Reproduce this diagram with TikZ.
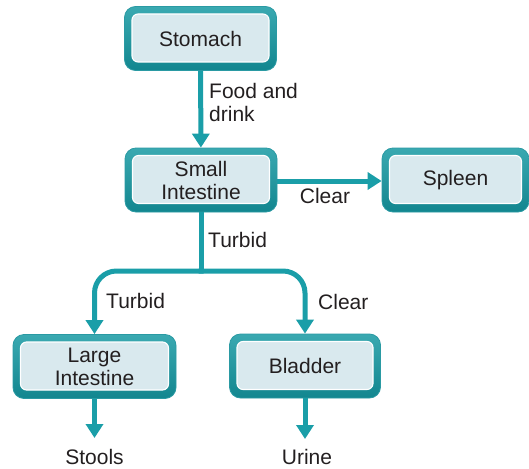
\documentclass[tikz,border=0pt]{standalone}
\usepackage{fontspec}
\setmainfont{Liberation Sans}
\usetikzlibrary{arrows.meta}

\definecolor{flowteal}{HTML}{1A9EA8}
\definecolor{rimtop}{HTML}{3AA9B1}
\definecolor{rimmid}{HTML}{A9DADD}
\definecolor{rimbot}{HTML}{12868F}
\definecolor{rimline}{HTML}{2A9AA3}
\definecolor{panelfill}{HTML}{D9E9EE}
\definecolor{inktext}{HTML}{231F20}

\tikzset{
  organ/.style={
    minimum height=64pt, inner sep=0pt,
    rounded corners=11pt,
    top color=rimtop, middle color=rimmid, bottom color=rimbot,
    draw=rimline, line width=0.8pt,
    align=center, text=inktext,
    font=\fontsize{21pt}{23pt}\selectfont,
    path picture={
      \draw[white, line width=1.1pt, fill=panelfill, rounded corners=6pt]
        ([shift={(7.5pt,-7.5pt)}]path picture bounding box.north west)
        rectangle
        ([shift={(-7.5pt,8.5pt)}]path picture bounding box.south east);
    }
  },
  flow/.style={draw=flowteal, line width=5pt,
    -{Triangle[width=17pt,length=14pt]}},
  tag/.style={text=inktext, inner sep=0pt, align=left,
    font=\fontsize{21pt}{23pt}\selectfont},
}

\begin{document}
\begin{tikzpicture}[x=1pt, y=-1pt]
  \useasboundingbox (0,0) rectangle (529,468);

  % organ boxes
  \node[organ, minimum width=152pt] (stomach) at (200.5,38.5) {Stomach};
  \node[organ, minimum width=152pt] (small)   at (201,180) {Small\\Intestine};
  \node[organ, minimum width=147pt] (spleen)  at (455.5,180) {Spleen};
  \node[organ, minimum width=163pt] (large)   at (94.5,366.5) {Large\\Intestine};
  \node[organ, minimum width=151pt] (bladder) at (305,366) {Bladder};

  % branch point and free arrow ends
  \coordinate (split) at (201,271);
  \coordinate (stoolsend) at (94.5,438);
  \coordinate (urineend) at (305,439);

  % connectors
  \draw[flow] (stomach) -- (small);
  \draw[flow] (small.east |- 0,181) -- (spleen.west |- 0,181);
  \draw[draw=flowteal, line width=5pt] (small.south) -- (split);
  \draw[flow, rounded corners=22pt] ([xshift=2.5pt]split) -| (large.north);
  \draw[flow, rounded corners=22pt] ([xshift=-2.5pt]split) -| (bladder.north);
  \draw[flow] (large) -- (stoolsend);
  \draw[flow] (bladder) -- (urineend);

  % labels
  \node[tag, anchor=west] (lfood) at (209,102) {Food and\\drink};
  \node[tag] (lclear1) at (325,196) {Clear};
  \node[tag, anchor=west] (lturbid1) at (208,240) {Turbid};
  \node[tag, anchor=west] (lturbid2) at (106,301) {Turbid};
  \node[tag, anchor=west] (lclear2) at (318,302) {Clear};
  \node[tag] (stools) at (94.5,457) {Stools};
  \node[tag] (urine) at (307,457) {Urine};
\end{tikzpicture}
\end{document}
